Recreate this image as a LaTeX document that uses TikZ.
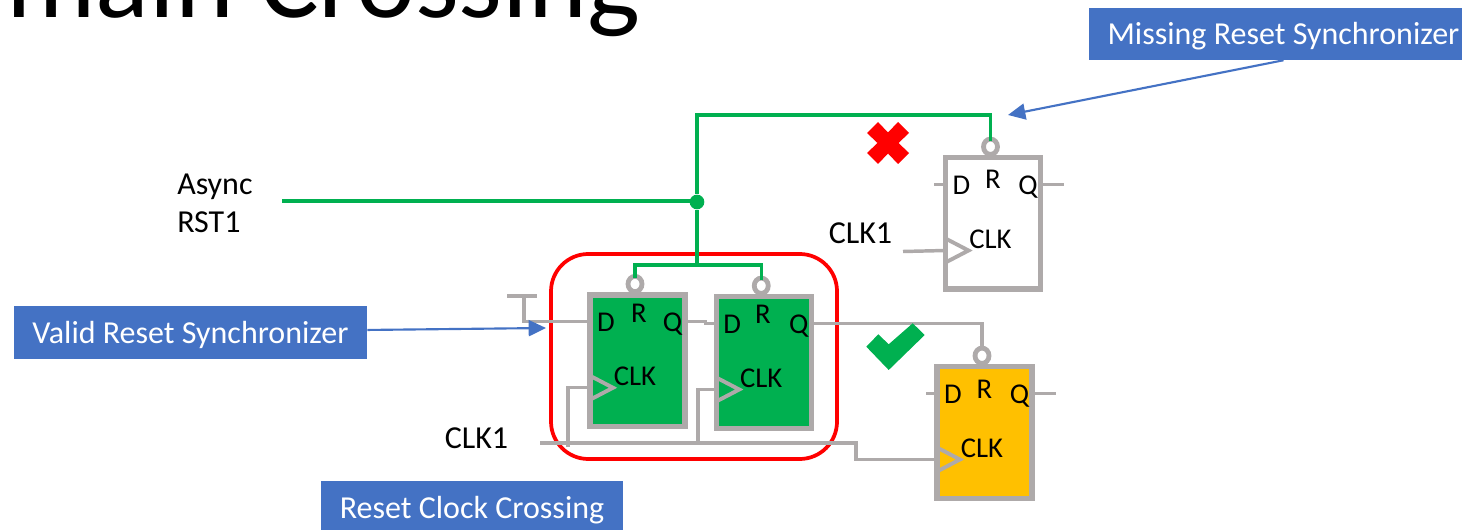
\documentclass[tikz,border=0pt]{standalone}
\usepackage{fontspec}
\setmainfont{Carlito}
\usepackage{tikz}
\usetikzlibrary{shapes.geometric,     % bubbles on the R pins
           arrows.meta,               % callout tips
           calc}                      % pin coordinates
\definecolor{rstgreen}{RGB}{0,176,80}
\definecolor{ffamber}{RGB}{255,192,0}
\definecolor{wiregray}{RGB}{174,170,170}
\definecolor{noteblue}{RGB}{68,114,196}
\tikzset{
  ffbox/.style={draw=wiregray,line width=4pt,rectangle,inner sep=0,outer sep=0,
                minimum width=71.25pt,minimum height=98.5pt},
  ffbubble/.style={draw=wiregray,line width=3.6pt,ellipse,fill=white,inner sep=0,outer sep=0,
                minimum width=10.5pt,minimum height=11.5pt},
  pinlabel/.style={anchor=base,inner sep=0,font=\fontsize{21.5}{24}\selectfont},
  wire/.style={draw=wiregray,line width=2.6pt},
  rstwire/.style={draw=rstgreen,line width=2.8pt},
  notebox/.style={fill=noteblue,text=white,inner sep=0,text height=16pt,text depth=0pt,
                font=\fontsize{24}{28}\selectfont},
  notearrow/.style={draw=noteblue,line width=1.6pt,-{Triangle[length=13pt,width=12pt]}},
  sigtext/.style={inner sep=0,font=\fontsize{24}{28.5}\selectfont},
}
\begin{document}
\begin{tikzpicture}[x=0.75pt,y=-0.75pt]
\clip (0,0) rectangle (1462,530);
\node[anchor=base west,inner sep=0,font=\fontsize{84}{90}\selectfont] (title) at (6,18) {main Crossing};
\node[draw=red,line width=2.8pt,rectangle,rounded corners=28pt,inner sep=0,minimum width=214.5pt,minimum height=153.75pt] (rcabox) at (694,356.5) {};
% flip-flops
\foreach \name/\x/\y/\col/\rx/\ry in {ffA/637.5/360.75/rstgreen/1.5/-38,ffB/763.75/362.5/rstgreen/-0.75/-39,ffC/993/223.5/white/0/-34.5,ffD/984.5/432.5/ffamber/0/-34}{
  \node[ffbox,fill=\col] (\name) at (\x,\y) {};
  \node[ffbubble] (\name-r) at (\x-2.5,\y-76.75) {};
  \node[pinlabel] (\name-dl) at (\x-31.5,\y-28.75) {D};
  \node[pinlabel] (\name-rl) at (\x+\rx,\y+\ry) {R};
  \node[pinlabel] (\name-ql) at (\x+35,\y-28.75) {Q};
  \node[pinlabel] (\name-cl) at (\x-2.5,\y+25) {CLK};
  \coordinate (\name-d) at (\x-47.5,\y-39);
  \coordinate (\name-q) at (\x+47.5,\y-39);
  \coordinate (\name-c) at (\x-47.5,\y+27);
  \draw[wire,line width=2.9pt] ($(\name-c)+(0,-12)$) -- ($(\name-c)+(23,0)$) -- ($(\name-c)+(0,12)$);
}
\foreach \name/\dl/\ql in {ffC/-12/23.5,ffD/-11/24}{
  \coordinate (\name-dout) at ($(\name-d)+(\dl,0)$);
  \coordinate (\name-qout) at ($(\name-q)+(\ql,0)$);
  \draw[wire] (\name-d) -- (\name-dout);
  \draw[wire] (\name-q) -- (\name-qout);
}
% reset net
\node[circle,fill=rstgreen,inner sep=0,minimum size=11pt] (rstdot) at (697,202) {};
\coordinate (rstin) at (282,201);
\coordinate (rsttop) at (697,115);
\coordinate (rstlow) at (697,265);
\draw[rstwire] (rstin) -- (rstin -| rstdot);
\draw[rstwire] (rstdot) -- (rsttop) -| ([yshift=-1.5pt]ffC-r.north);
\draw[rstwire] (rstdot) -- (rstlow);
\draw[rstwire,line width=2.5pt] ([yshift=-1.5pt]ffA-r.north) |- (rstlow) -| ([yshift=-1.5pt]ffB-r.north);
% data and clock wires
\coordinate (tieL) at (507,296);
\coordinate (tieR) at (537,296);
\coordinate (tieM) at (524,296);
\draw[wire] (tieL) -- (tieR);
\draw[wire] (tieM) |- (ffA-d);
\draw[wire] (ffA-q) -| ($(ffA-q)!.65!(ffB-d)$) |- (ffB-d);
\draw[wire] (ffB-q) -| (ffD-r.north);
\coordinate (clkin) at (540,443);
\coordinate (clkbend) at (856,443);
\coordinate (clkA) at (568,447);
\coordinate (clkB) at (698,443);
\coordinate (clkC) at (903,251.5);
\draw[wire] (clkin) -- (clkbend) |- (ffD-c);
\draw[wire] (clkA) |- (ffA-c);
\draw[wire] (clkB) |- (ffB-c);
\draw[wire] (clkC) -- (ffC-c);
% marks
\fill[red] (888,132.5) -- (898,122) -- (909,133) -- (898.5,143) -- (909,153) -- (898,164) -- (888,153.5)
  -- (878,164) -- (867,153) -- (877.5,143) -- (867,133) -- (878,122) -- cycle;
\fill[rstgreen] (912.7,323.3) -- (924.7,335) -- (888.7,370) -- (866.3,346.7) -- (878.3,334.3) -- (888.7,344.3) -- cycle;
% texts
\node[sigtext,align=left,anchor=west] (asyncrst) at (177,203) {Async\\RST1};
\node[sigtext] (clkoneC) at (860.5,233) {CLK1};
\node[sigtext] (clkoneA) at (476.5,438) {CLK1};
\node[notebox,minimum width=279.75pt,minimum height=39pt] (missingbox) at (1275.5,34) {\hspace*{12pt}Missing Reset Synchronizer};
\node[notebox,minimum width=264.75pt,minimum height=39.75pt] (validbox) at (190.5,332.5) {Valid Reset Synchronizer};
\node[notebox,minimum width=226.5pt,minimum height=40.5pt] (crossbox) at (472,508) {Reset Clock Crossing};
\coordinate (missingtip) at (1008,115);
\coordinate (validtip) at (546,328);
\draw[notearrow] ([xshift=6pt]missingbox.south) -- (missingtip);
\draw[notearrow] ([yshift=1.9pt]validbox.east) -- (validtip);
\end{tikzpicture}
\end{document}
